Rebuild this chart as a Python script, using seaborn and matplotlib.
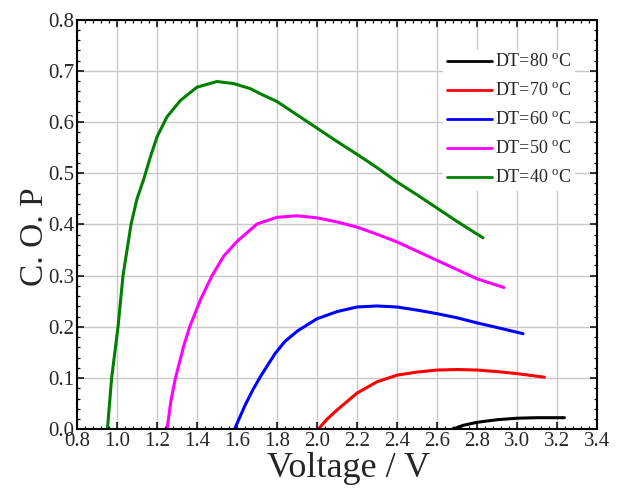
import numpy as np
import pandas as pd
import matplotlib
matplotlib.use("Agg")
import matplotlib.pyplot as plt
from matplotlib.ticker import MultipleLocator, FormatStrFormatter
import seaborn as sns

# 읽어낸 곡선 값 (Voltage / V, C.O.P)
v_40 = [0.952, 0.973, 1.005, 1.03, 1.07, 1.10, 1.135, 1.167, 1.20, 1.25, 1.317, 1.40,
        1.50, 1.583, 1.667, 1.717, 1.80, 1.90, 2.0, 2.1, 2.2, 2.3, 2.4, 2.5, 2.6, 2.7, 2.83]
cop_40 = [0.0, 0.1, 0.2, 0.3, 0.4, 0.45, 0.49, 0.532, 0.571, 0.61, 0.642, 0.668,
          0.679, 0.675, 0.665, 0.655, 0.640, 0.614, 0.588, 0.562, 0.537, 0.511, 0.483,
          0.458, 0.432, 0.406, 0.374]

v_50 = [1.25, 1.27, 1.292, 1.333, 1.363, 1.417, 1.475, 1.533, 1.60, 1.70, 1.80, 1.90,
        2.0, 2.1, 2.2, 2.3, 2.4, 2.5, 2.6, 2.7, 2.8, 2.935]
cop_50 = [0.0, 0.057, 0.1, 0.162, 0.2, 0.253, 0.3, 0.338, 0.367, 0.401, 0.414, 0.417,
          0.413, 0.405, 0.395, 0.381, 0.366, 0.348, 0.330, 0.312, 0.294, 0.277]

v_60 = [1.587, 1.64, 1.68, 1.72, 1.79, 1.84, 1.905, 2.0, 2.1, 2.2, 2.3, 2.4, 2.5, 2.6,
        2.7, 2.8, 2.9, 3.03]
cop_60 = [0.0, 0.047, 0.078, 0.105, 0.148, 0.172, 0.193, 0.216, 0.230, 0.239, 0.241,
          0.239, 0.233, 0.226, 0.218, 0.208, 0.199, 0.187]

v_70 = [2.005, 2.05, 2.1, 2.2, 2.3, 2.4, 2.5, 2.6, 2.7, 2.8, 2.9, 3.0, 3.137]
cop_70 = [0.0, 0.02, 0.038, 0.071, 0.093, 0.106, 0.112, 0.116, 0.117, 0.116, 0.113,
          0.109, 0.102]

v_80 = [2.673, 2.73, 2.8, 2.9, 3.0, 3.1, 3.237]
cop_80 = [0.0, 0.008, 0.014, 0.019, 0.022, 0.023, 0.023]

labels = ["DT=80 $^{\\rm o}$C", "DT=70 $^{\\rm o}$C", "DT=60 $^{\\rm o}$C",
          "DT=50 $^{\\rm o}$C", "DT=40 $^{\\rm o}$C"]
colors = ["black", "red", "blue", "magenta", "green"]

series = [(v_80, cop_80), (v_70, cop_70), (v_60, cop_60), (v_50, cop_50), (v_40, cop_40)]
rows = []
for lab, (v, c) in zip(labels, series):
    for x, y in zip(v, c):
        rows.append({"DT": lab, "V": x, "COP": y})
df = pd.DataFrame(rows)

sns.set_theme(style="ticks")
plt.rcParams.update({"font.family": ["Liberation Serif", "DejaVu Serif"],
                     "mathtext.fontset": "custom", "mathtext.rm": "Liberation Serif",
                     "xtick.direction": "in", "ytick.direction": "in",
                     "axes.unicode_minus": False})

fig = plt.figure(figsize=(6.25, 4.9), dpi=100)
ax = fig.add_axes([0.1232, 0.1235, 0.8320, 0.8367])

sns.lineplot(data=df, x="V", y="COP", hue="DT", hue_order=labels,
             palette=dict(zip(labels, colors)), sort=False, estimator=None,
             lw=2.2, ax=ax)

ax.set_xlim(0.8, 3.4); ax.set_ylim(0.0, 0.8)
ax.xaxis.set_major_locator(MultipleLocator(0.2)); ax.xaxis.set_minor_locator(MultipleLocator(0.04))
ax.yaxis.set_major_locator(MultipleLocator(0.1)); ax.yaxis.set_minor_locator(MultipleLocator(0.02))
ax.xaxis.set_major_formatter(FormatStrFormatter("%.1f"))
ax.yaxis.set_major_formatter(FormatStrFormatter("%.1f"))
ax.tick_params(which="both", top=True, right=True, labelsize=15, pad=2, color="black")
ax.tick_params(which="major", length=5, width=1.1)
ax.tick_params(which="minor", length=2.5, width=0.9)
ax.grid(True, which="major", color="#c8c8c8", lw=1.0)
for s in ax.spines.values():
    s.set_color("black"); s.set_linewidth(1.5)

ax.set_xlabel("Voltage / V", fontsize=26)
ax.set_ylabel("C. O. P", fontsize=24)
ax.xaxis.set_label_coords(0.523, -0.116, transform=ax.transAxes)
ax.xaxis.label.set_va("baseline")
ax.yaxis.set_label_coords(-0.051, 0.47, transform=ax.transAxes)

leg = ax.legend(loc="upper left", bbox_to_anchor=(0.7046, 0.925), frameon=True, fontsize=13,
                handlelength=2.5, handletextpad=0.17, labelspacing=0.65, borderpad=0.2,
                borderaxespad=0)
leg.get_frame().set_facecolor("white"); leg.get_frame().set_edgecolor("none")
leg.get_frame().set_alpha(1.0)
for h in leg.get_lines():
    h.set_linewidth(2.0)

fig.savefig("out.png", dpi=100)
